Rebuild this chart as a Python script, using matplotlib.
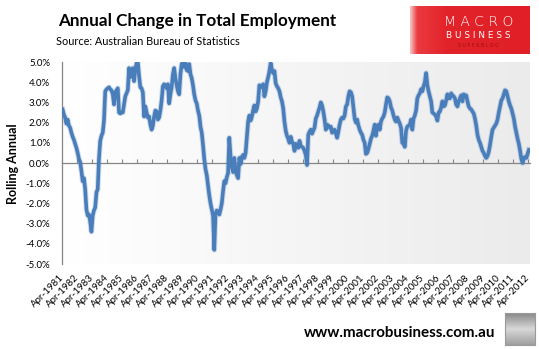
import matplotlib
import matplotlib.pyplot as plt
import matplotlib.patheffects as pe
import numpy as np
from matplotlib.colors import LinearSegmentedColormap

matplotlib.use("Agg")

# Annual change in total employment (%), monthly from Apr-1981 to Apr-2012
EMPLOYMENT_CHANGE = [
    2.65, 2.40, 2.25, 1.95, 2.15, 1.85, 1.75, 1.50, 1.30, 1.15, 0.95, 0.75,
    0.50, 0.20, 0.05, -0.40, -0.90, -0.75, -1.30, -2.30, -2.60, -2.55, -2.90, -3.40,
    -2.60, -2.35, -2.20, -1.45, -1.30, 0.20, 1.10, 1.35, 1.50, 2.10, 3.55, 3.65,
    3.70, 3.75, 3.65, 3.60, 3.40, 2.90, 3.50, 3.60, 3.70, 2.50, 2.45, 2.50,
    2.50, 2.90, 3.30, 3.45, 3.60, 4.70, 4.25, 4.40, 4.70, 4.05, 4.60, 4.95,
    5.00, 4.30, 3.75, 3.70, 3.50, 2.30, 2.80, 2.50, 2.25, 2.30, 1.90, 1.65,
    1.85, 2.30, 2.60, 2.55, 2.15, 2.25, 2.60, 3.10, 3.80, 3.90, 3.85, 3.70,
    3.90, 2.95, 3.40, 3.75, 4.40, 4.70, 4.20, 3.85, 3.55, 3.40, 4.40, 4.90,
    5.00, 4.75, 4.95, 4.60, 4.55, 4.90, 4.40, 4.20, 3.85, 3.40, 3.10, 2.95,
    2.60, 2.35, 1.80, 1.50, 0.90, 0.20, -0.30, -0.60, -1.10, -1.60, -2.00, -2.30,
    -2.60, -4.30, -2.50, -2.35, -2.40, -2.55, -2.30, -2.00, -1.40, -0.90, -1.00, -0.70,
    -0.50, 1.25, 0.30, -0.20, -0.45, 0.25, -0.40, -0.60, -0.75, 0.25, -0.05, 0.30,
    0.40, 0.25, 0.50, 1.25, 2.05, 2.35, 2.10, 2.30, 2.60, 2.85, 2.55, 2.70,
    3.05, 3.85, 3.75, 3.80, 3.90, 3.30, 3.55, 4.00, 4.25, 4.55, 4.95, 4.60,
    4.45, 4.55, 3.95, 3.80, 3.70, 3.55, 3.25, 3.05, 2.70, 2.05, 1.60, 1.35,
    1.20, 1.00, 1.30, 1.05, 0.95, 0.60, 0.95, 0.85, 0.75, 1.10, 0.85, 0.80,
    0.75, 0.60, 0.40, -0.10, 1.40, 1.55, 1.65, 1.45, 1.60, 1.75, 2.20, 2.35,
    2.55, 2.75, 3.00, 2.85, 2.55, 2.15, 1.65, 1.90, 1.85, 1.75, 1.80, 1.50,
    1.60, 1.65, 1.45, 1.25, 1.55, 1.90, 2.15, 2.25, 2.20, 2.35, 2.80, 2.90,
    3.30, 3.55, 3.50, 3.30, 2.75, 2.20, 2.00, 2.15, 1.85, 1.65, 1.50, 1.40,
    1.15, 1.00, 0.45, 0.50, 0.70, 0.95, 1.20, 1.35, 1.60, 1.90, 1.35, 1.85,
    1.90, 1.65, 2.05, 2.20, 2.30, 2.50, 2.90, 3.25, 3.20, 3.05, 2.75, 2.60,
    2.35, 2.15, 2.05, 2.25, 2.10, 1.95, 1.75, 1.00, 0.95, 0.80, 1.60, 1.80,
    1.85, 1.90, 2.15, 1.65, 2.20, 2.35, 2.60, 3.20, 3.35, 3.45, 3.65, 3.55,
    3.80, 4.00, 4.45, 3.85, 3.55, 3.30, 3.05, 2.50, 2.45, 2.40, 2.30, 2.10,
    2.50, 2.55, 2.75, 3.05, 2.80, 2.85, 3.10, 3.40, 3.20, 3.20, 3.45, 3.35,
    3.30, 3.20, 2.90, 2.80, 3.05, 3.20, 3.35, 3.05, 3.40, 3.30, 3.35, 3.05,
    2.80, 2.70, 2.65, 2.55, 2.45, 2.20, 1.85, 1.40, 1.15, 1.00, 0.80, 0.60,
    0.50, 0.35, 0.25, 0.35, 0.55, 0.90, 1.30, 1.65, 1.75, 1.85, 1.95, 2.15,
    2.50, 2.80, 3.10, 3.20, 3.40, 3.60, 3.55, 3.30, 3.05, 2.85, 2.70, 2.45,
    2.20, 1.80, 1.50, 1.20, 0.95, 0.60, 0.20, 0.00, 0.25, 0.30, 0.25, 0.45,
    0.65,
]
TICK_YEARS = list(range(1981, 2013))
TICK_LABELS = [f"Apr-{y}" for y in TICK_YEARS]
Y_TICKS = [-5, -4, -3, -2, -1, 0, 1, 2, 3, 4, 5]

W, H = 539, 349
FONT = "Lato"

fig = plt.figure(figsize=(W / 100, H / 100), dpi=100, facecolor="white")
rect = (62 / W, 1 - 264 / H, 467.5 / W, 202 / H)

# plot area gradient (white -> light grey)
bg = fig.add_axes(rect, zorder=0)
bg_cmap = LinearSegmentedColormap.from_list("bg", ["#ffffff", "#ebebeb"])
bg.imshow(np.linspace(0, 1, 256)[None, :], cmap=bg_cmap, aspect="auto", extent=(0, 1, 0, 1))
bg.set_axis_off()

ax = fig.add_axes(rect, zorder=1)
ax.set_facecolor("none")
n = len(EMPLOYMENT_CHANGE)
x = np.arange(n)
ax.plot(x, EMPLOYMENT_CHANGE, color="#4A7EBB", lw=2.6, solid_joinstyle="round", zorder=3,
        path_effects=[pe.Stroke(linewidth=4.0, foreground="#4A7EBB", alpha=0.25), pe.Normal()])
ax.set_xlim(-0.5, n - 0.5)
ax.set_ylim(-5, 5)

for side in ("top", "right", "bottom"):
    ax.spines[side].set_visible(False)
ax.spines["left"].set_color("#868686")
ax.spines["left"].set_linewidth(0.9)

ax.set_yticks(Y_TICKS)
ax.set_yticklabels([f"{v:.1f}%" for v in Y_TICKS], fontsize=7, family=FONT)
ax.tick_params(axis="y", length=0, pad=8.6)

ax.set_xticks(np.arange(0, n, 12))
ax.set_xticklabels(TICK_LABELS, rotation=45, ha="right", va="center",
                   rotation_mode="anchor", fontsize=7, family=FONT)
ax.tick_params(axis="x", length=0, pad=9)

# category axis crossing at zero, tick marks between years
zero_axis = ax.secondary_xaxis(0.5)
zero_axis.set_xticks(np.arange(-0.5, n, 12))
zero_axis.tick_params(labeltop=False, labelbottom=False, length=2.6, width=0.8, color="#868686")
for sp in zero_axis.spines.values():
    sp.set_color("#868686")
    sp.set_linewidth(0.9)

fig.text(13 / W, 1 - 164 / H, "Rolling Annual", fontsize=9, fontweight="bold", family=FONT,
         rotation=90, ha="center", va="center")
fig.text(197 / W, 1 - 21.4 / H, "Annual Change in Total Employment", fontsize=12.3,
         fontweight="bold", family=FONT, ha="center", va="center")
fig.text(56 / W, 1 - 41.5 / H, "Source: Australian Bureau of Statistics", fontsize=7.8,
         family=FONT, ha="left", va="center")
fig.text(495 / W, 1 - 333 / H, "www.macrobusiness.com.au", fontsize=10.9,
         fontweight="bold", family=FONT, ha="right", va="center")

# logo block
logo = fig.add_axes((410 / W, 1 - 54.5 / H, 120 / W, 48.5 / H))
logo_cmap = LinearSegmentedColormap.from_list(
    "logo", [(0, "#f9c4c4"), (0.06, "#ea3a40"), (0.3, "#e3232a"), (1, "#e01f26")])
logo.imshow(np.linspace(0, 1, 256)[None, :], cmap=logo_cmap, aspect="auto", extent=(0, 1, 0, 1))
logo.set_axis_off()
logo.text(0.57, 0.66, "M A C R O", color="white", fontsize=10, family="DejaVu Sans",
          fontweight="light", ha="center", va="center", transform=logo.transAxes)
logo.text(0.57, 0.40, "B U S I N E S S", color="white", fontsize=6.4, family="DejaVu Sans",
          ha="center", va="center", transform=logo.transAxes)
logo.text(0.57, 0.19, "S U P E R B L O G", color="#9b1015", fontsize=3.4, family="DejaVu Sans",
          ha="center", va="center", transform=logo.transAxes)

# wolf thumbnail placeholder
thumb = fig.add_axes((505 / W, 1 - 345 / H, 30 / W, 32 / H))
thumb_cmap = LinearSegmentedColormap.from_list("thumb", ["#8a8a8a", "#d8d8d8", "#a0a0a0"])
thumb.imshow(np.outer(np.linspace(0, 1, 32), np.ones(32)), cmap=thumb_cmap, aspect="auto")
thumb.set_xticks([])
thumb.set_yticks([])
for sp in thumb.spines.values():
    sp.set_color("#9a9a9a")

fig.savefig("out.png", dpi=100, facecolor="white")
